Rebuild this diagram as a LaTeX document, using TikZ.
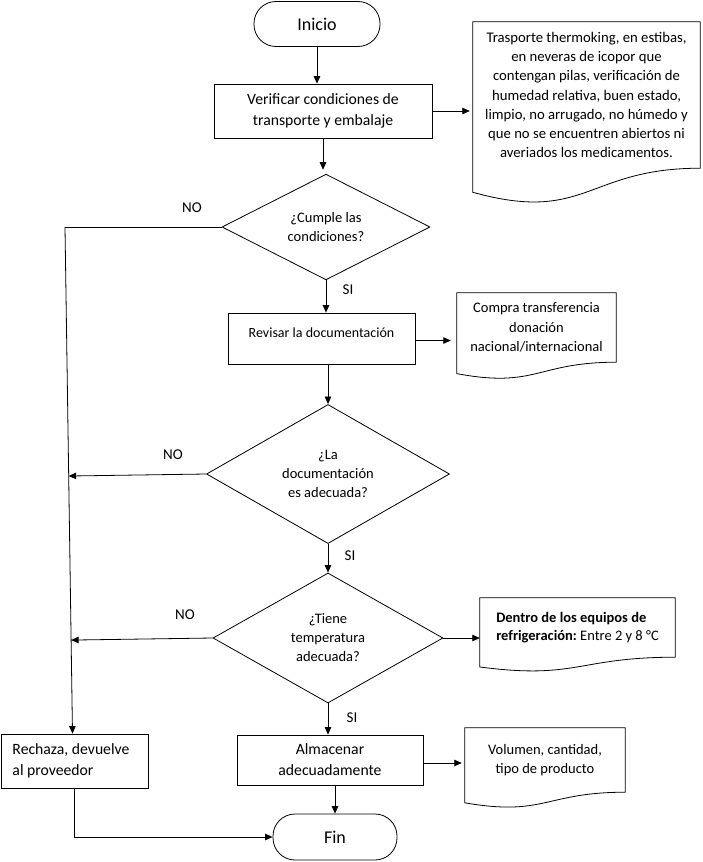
\documentclass[tikz,border=0pt]{standalone}
\usepackage{fontspec}
\setmainfont{Carlito}
\usetikzlibrary{arrows.meta,shapes.geometric,calc}
\tikzset{
  base/.style={draw, line width=0.8pt, align=center, inner sep=0pt},
  proc/.style={base, rectangle, font=\fontsize{15.7}{21}\selectfont},
  term/.style={base, rectangle, rounded corners=22pt, font=\fontsize{18}{22}\selectfont},
  dec/.style={base, diamond, font=\fontsize{14.5}{19}\selectfont},
  docn/.style={align=center, inner sep=0pt, font=\fontsize{14.5}{19.5}\selectfont},
  arr/.style={line width=0.8pt, -{Triangle[length=7.5pt,width=6.5pt]}},
  ln/.style={line width=0.8pt},
  lab/.style={font=\fontsize{15}{18}\selectfont}
}
\newcommand{\docoutline}[1]{%
  \draw[ln] let \p1=(#1.north west), \p2=(#1.south east), \n1={\y2-\y1} in
   (\p1) -- (\x2,\y1) -- (\p2) .. controls ({(\x1+\x2)/2},\y2) and ({(\x1+\x2)/2},{\y1+1.380*\n1}) .. (\x1,{\y1+1.1646*\n1}) -- cycle;}
\begin{document}
\frenchspacing
\begin{tikzpicture}[x=1pt,y=-1pt]
\useasboundingbox (0,0) rectangle (702,862);
% nodes
\node[term, minimum width=126pt, minimum height=45pt] (ini) at (317,24) {Inicio};
\node[proc, minimum width=218pt, minimum height=54pt] (ver) at (323,111) {Verificar condiciones de\\transporte y embalaje};
\node[docn, minimum width=227pt, minimum height=146pt, font=\fontsize{14.7}{19.3}\selectfont] (doc1) at (586.5,95) {Trasporte thermoking, en estibas,\\en neveras de icopor que\\contengan pilas, verificación de\\humedad relativa, buen estado,\\limpio, no arrugado, no húmedo y\\que no se encuentren abiertos ni\\averiados los medicamentos.};
\docoutline{doc1}
\node[dec, minimum width=208pt, minimum height=91pt] (d1) at (326,227) {¿Cumple las\\condiciones?};
\node[proc, minimum width=187pt, minimum height=51pt, text height=10pt, text depth=13pt, font=\fontsize{14}{19}\selectfont] (rev) at (321.5,338.5) {Revisar la documentación};
\node[docn, minimum width=159pt, minimum height=69pt] (doc2) at (536.5,327.5) {Compra transferencia\\donación\\nacional/internacional};
\docoutline{doc2}
\node[dec, minimum width=243pt, minimum height=137pt] (d2) at (328,474) {¿La\\documentación\\es adecuada?};
\node[dec, minimum width=230pt, minimum height=130pt] (d3) at (328,638) {¿Tiene\\temperatura\\adecuada?};
\node[docn, align=flush left, minimum width=195pt, minimum height=59pt, font=\fontsize{14.5}{18}\selectfont] (doc3) at (577.5,627.5) {\textbf{Dentro de los equipos de}\\\textbf{refrigeración:} Entre 2 y 8 °C};
\docoutline{doc3}
\node[proc, minimum width=186pt, minimum height=50pt] (alm) at (330,760) {Almacenar\\adecuadamente};
\node[docn, minimum width=160pt, minimum height=64pt] (doc4) at (545,760) {Volumen, cantidad,\\tipo de producto};
\docoutline{doc4}
\node[proc, align=flush left, minimum width=147pt, minimum height=54pt, text width=124pt] (rech) at (74.5,761) {Rechaza, devuelve\\al proveedor};
\node[term, minimum width=124pt, minimum height=46pt] (fin) at (335,837) {Fin};
% labels
\node[lab] (no1) at (192,208) {NO};
\node[lab] (no2) at (173,455) {NO};
\node[lab] (no3) at (185,615) {NO};
\node[lab] (si1) at (348,290) {SI};
\node[lab] (si2) at (350,556) {SI};
\node[lab] (si3) at (352,718) {SI};
% connectors
\coordinate (c1) at (65,227);
\draw[arr] (ini.south) -- (ini.south |- ver.north);
\draw[arr, shorten >=3pt] (ver.east) -- (ver.east -| doc1.west);
\draw[arr, shorten >=4pt] (ver.south) -- (ver.south |- d1.north);
\draw[ln] (d1.west) -- (c1);
\draw[arr] (c1) -- ([xshift=-2pt]rech.north);
\draw[arr] (d1.south) -- (d1.south |- rev.north);
\draw[arr, shorten >=6pt] ([yshift=-2pt]rev.east) -- ([yshift=-2pt]rev.east -| doc2.west);
\draw[arr] (d2.north |- rev.south) -- (d2.north);
\draw[arr] (d2.west) -- ($(c1)!(d2.west)!([xshift=-2pt]rech.north)$);
\draw[arr] (d2.south) -- (d3.north);
\draw[arr] (d3.west) -- ($(c1)!(d3.west)!([xshift=-2pt]rech.north)$);
\draw[arr] (d3.east) -- (d3.east -| doc3.west);
\draw[arr] (d3.south) -- (d3.south |- alm.north);
\draw[arr, shorten >=3pt] ([yshift=-3pt]alm.east) -- ([yshift=-3pt]alm.east -| doc4.west);
\draw[arr] (alm.south -| fin.north) -- (fin.north);
\draw[arr] (rech.south) -- (rech.south |- fin.west) -- (fin.west);
\end{tikzpicture}
\end{document}
